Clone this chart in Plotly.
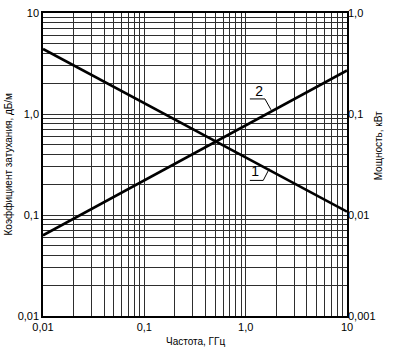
import plotly.graph_objects as go

freq = [0.01, 10]
atten = [4.4, 0.108]        # curve 1, dB/m
power_scaled = [0.063, 2.7] # curve 2 (drawn on left scale; right axis = /10 kW)

x_ticks = [0.01, 0.1, 1, 10]
x_text = ["0,01", "0,1", "1,0", "10"]
yl_ticks = [0.01, 0.1, 1, 10]
yl_text = ["0,01", "0,1", "1,0", "10"]
yr_ticks = [0.001, 0.01, 0.1, 1]
yr_text = ["0,001", "0,01", "0,1", "1,0"]

lab2_pos = (1.36, 1.62)
lab2_leader_x = [1.10, 1.55, 1.78]
lab2_leader_y = [1.41, 1.41, 1.10]
lab1_pos = (1.24, 0.262)
lab1_leader_x = [1.10, 1.49, 1.71]
lab1_leader_y = [0.22, 0.22, 0.287]

font = "Liberation Sans, Arial, sans-serif"
gridc = "#2e2e2e"

fig = go.Figure()
fig.add_trace(go.Scatter(x=freq, y=atten, mode="lines",
                         line=dict(color="black", width=2.6), showlegend=False))
fig.add_trace(go.Scatter(x=freq, y=power_scaled, mode="lines",
                         line=dict(color="black", width=2.6), showlegend=False))
fig.add_trace(go.Scatter(x=lab2_leader_x, y=lab2_leader_y, mode="lines",
                         line=dict(color="black", width=1), showlegend=False))
fig.add_trace(go.Scatter(x=lab1_leader_x, y=lab1_leader_y, mode="lines",
                         line=dict(color="black", width=1), showlegend=False))
fig.add_trace(go.Scatter(x=[lab2_pos[0], lab1_pos[0]], y=[lab2_pos[1], lab1_pos[1]],
                         mode="text", text=["2", "1"],
                         textfont=dict(family=font, size=14, color="black"),
                         showlegend=False))
# invisible trace for right axis
fig.add_trace(go.Scatter(x=freq, y=[v / 10 for v in power_scaled], yaxis="y2",
                         mode="lines", line=dict(width=0), opacity=0,
                         showlegend=False, hoverinfo="skip"))

axis_common = dict(type="log", showline=True, linecolor="black", linewidth=1.5,
                   mirror=True, gridcolor=gridc, gridwidth=1, ticks="",
                   tickfont=dict(family=font, size=11, color="black"),
                   minor=dict(dtick="D1", showgrid=True, gridcolor=gridc, gridwidth=1, ticks=""),
                   zeroline=False, automargin=False)

tfont = dict(family=font, size=10, color="black")

fig.update_layout(
    width=394, height=351,
    margin=dict(l=43, r=47, t=13, b=35),
    paper_bgcolor="white", plot_bgcolor="white",
    xaxis=dict(axis_common, range=[-2, 1], tickvals=x_ticks, ticktext=x_text),
    yaxis=dict(axis_common, range=[-2, 1], tickvals=yl_ticks, ticktext=yl_text),
    yaxis2=dict(type="log", range=[-3, 0], overlaying="y", side="right",
                tickvals=yr_ticks, ticktext=yr_text, showgrid=False, ticks="",
                tickfont=dict(family=font, size=11, color="black"), zeroline=False,
                automargin=False),
    annotations=[
        dict(text="Частота, ГГц", xref="paper", yref="paper", x=0.5, y=0,
             yshift=-25, showarrow=False, xanchor="center", yanchor="middle", font=tfont),
        dict(text="Коэффициент затухания, дБ/м", textangle=-90, xref="paper", yref="paper",
             x=0, xshift=-35, y=0.5, showarrow=False, xanchor="center", yanchor="middle",
             font=tfont),
        dict(text="Мощность, кВт", textangle=-90, xref="paper", yref="paper",
             x=1.0, xshift=31, y=0.56, showarrow=False, xanchor="center",
             yanchor="middle", font=tfont),
    ],
)

fig.write_html("out.html")
